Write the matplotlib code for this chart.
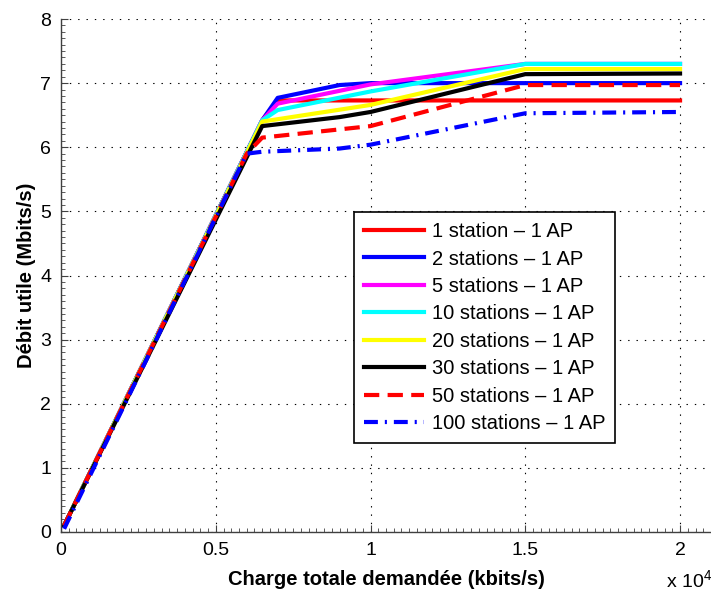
import numpy as np
import matplotlib
matplotlib.use("Agg")
import matplotlib.pyplot as plt
from matplotlib.ticker import MultipleLocator, FuncFormatter

plt.rcParams['font.family'] = ['Liberation Sans', 'DejaVu Sans']
plt.rcParams['mathtext.fontset'] = 'custom'
plt.rcParams['mathtext.rm'] = 'Liberation Sans'
plt.rcParams['lines.scale_dashes'] = False

# charge (kbits/s) and debit (Mbits/s) per scenario
x1 = [100, 6500, 7000, 20000]
y1 = [0.1, 6.42, 6.73, 6.73]
x2 = [100, 6500, 7000, 9000, 10000, 15000, 20000]
y2 = [0.1, 6.42, 6.77, 6.97, 7.0, 7.0, 7.0]
x5 = [100, 6500, 7000, 10000, 15000, 20000]
y5 = [0.1, 6.42, 6.68, 6.98, 7.3, 7.3]
x10 = [100, 6500, 7000, 10000, 15000, 20000]
y10 = [0.1, 6.42, 6.58, 6.87, 7.3, 7.3]
x20 = [100, 6500, 10000, 15000, 20000]
y20 = [0.1, 6.40, 6.66, 7.22, 7.22]
x30 = [100, 6500, 9000, 10000, 15000, 20000]
y30 = [0.1, 6.33, 6.47, 6.55, 7.14, 7.15]
x50 = [100, 6000, 6500, 10000, 15000, 20000]
y50 = [0.1, 5.9, 6.15, 6.33, 6.97, 6.97]
x100 = [100, 6000, 6500, 9000, 10000, 15000, 20000]
y100 = [0.05, 5.9, 5.93, 5.98, 6.04, 6.53, 6.55]

labels = ["1 station – 1 AP", "2 stations – 1 AP", "5 stations – 1 AP",
          "10 stations – 1 AP", "20 stations – 1 AP", "30 stations – 1 AP",
          "50 stations – 1 AP", "100 stations – 1 AP"]

fig = plt.figure(figsize=(7.11, 5.92), dpi=100)
ax = fig.add_axes([61/711, 1 - 532/592, 1 - 61/711, (532 - 19)/592])

lw = 3
ax.plot(x1, y1, color='#ff0000', lw=lw, label=labels[0])
ax.plot(x2, y2, color='#0000ff', lw=lw, label=labels[1])
ax.plot(x5, y5, color='#ff00ff', lw=lw, label=labels[2])
ax.plot(x10, y10, color='#00ffff', lw=lw, label=labels[3])
ax.plot(x20, y20, color='#ffff00', lw=lw, label=labels[4])
ax.plot(x30, y30, color='#000000', lw=lw, label=labels[5])
ax.plot(x50, y50, color='#ff0000', lw=lw, dashes=(11, 6), label=labels[6])
ax.plot(x100, y100, color='#0000ff', lw=lw, dashes=(10, 5, 1.5, 5), label=labels[7])

ax.set_xlim(0, 21000)
ax.set_ylim(0, 8)
ax.xaxis.set_major_locator(MultipleLocator(5000))
ax.xaxis.set_minor_locator(MultipleLocator(250))
ax.yaxis.set_major_locator(MultipleLocator(1))
ax.yaxis.set_minor_locator(MultipleLocator(0.1))
ax.xaxis.set_major_formatter(FuncFormatter(lambda v, p: ('%g' % (v / 1e4))))
ax.tick_params(which='both', direction='in', colors='#404040', labelcolor='black',
               labelsize=14, top=False, right=False)
ax.tick_params(which='major', length=5, pad=7)
ax.tick_params(which='minor', length=3)
for s in ['top', 'right']:
    ax.spines[s].set_visible(False)
for s in ['left', 'bottom']:
    ax.spines[s].set_color('#404040')
    ax.spines[s].set_linewidth(1.0)
ax.grid(True, which='major', color='black', linestyle=(0, (1, 5)), linewidth=0.8)

ax.set_xlabel("Charge totale demandée (kbits/s)", fontsize=14.5, fontweight='bold', labelpad=8)
ax.set_ylabel("Débit utile (Mbits/s)", fontsize=14.5, fontweight='bold', labelpad=3)
fig.text(666/711, 1 - 588/592, r'x 10$^{4}$', fontsize=14, ha='left', va='baseline')

leg = ax.legend(loc='upper left', bbox_to_anchor=(354/711, 1 - 212/592),
                bbox_transform=fig.transFigure, fontsize=14.5, frameon=True,
                fancybox=False, framealpha=1, edgecolor='black',
                handlelength=3.0, handletextpad=0.35, labelspacing=0.42,
                borderpad=0.5, borderaxespad=0)
leg.get_frame().set_linewidth(1.2)

fig.savefig("out.png", dpi=100)
